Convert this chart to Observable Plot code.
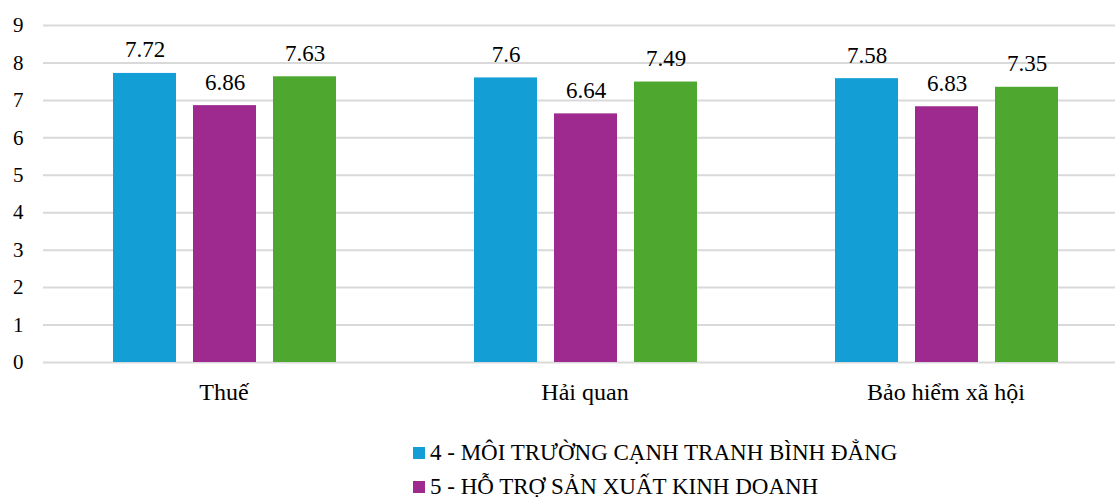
<!DOCTYPE html>
<html>
<head>
<meta charset="utf-8">
<script src="https://cdn.jsdelivr.net/npm/d3@7"></script>
<script src="https://cdn.jsdelivr.net/npm/@observablehq/plot@0.6"></script>
<style>
  body { margin: 0; background: #fff; font-family: "Tinos", "Times New Roman", "Liberation Serif", "DejaVu Serif", "Noto Serif", serif; }
  #legend { padding-top: 16px; padding-left: 413px; font-size: 23px; color: #000; }
  .row { display: flex; align-items: center; height: 34px; }
  .sw { width: 12px; height: 12px; margin-right: 5px; }
  svg text { font-family: "Tinos", "Times New Roman", "Liberation Serif", "DejaVu Serif", "Noto Serif", serif !important; }
</style>
</head>
<body>
<div id="chart"></div>
<div id="legend"></div>
<script>
const categories = ["Thuế", "Hải quan", "Bảo hiểm xã hội"];
const seriesNames = ["4 - MÔI TRƯỜNG CẠNH TRANH BÌNH ĐẲNG", "5 - HỖ TRỢ SẢN XUẤT KINH DOANH", "6"];
const series4 = [7.72, 7.6, 7.58];
const series5 = [6.86, 6.64, 6.83];
const series6 = [7.63, 7.49, 7.35];
const colors = ["#139fd6", "#9e2a8f", "#4ea72e"];
const yTicks = [0, 1, 2, 3, 4, 5, 6, 7, 8, 9];
const legendShown = 2;

const allValues = [series4, series5, series6];
const data = [];
categories.forEach((c, i) => {
  seriesNames.forEach((s, j) => data.push({category: c, series: s, value: allValues[j][i]}));
});

const font = "Tinos, 'Times New Roman', 'Liberation Serif', 'DejaVu Serif', serif";
const chart = Plot.plot({
  width: 1115,
  height: 420,
  marginLeft: 43,
  marginRight: 0,
  marginTop: 25,
  marginBottom: 58,
  style: {fontFamily: font, color: "#000", background: "#fff"},
  fx: {domain: categories, range: [43, 1126], padding: 0, label: null},
  x: {domain: seriesNames, range: [113, 336], paddingInner: 0.2125, paddingOuter: 0, axis: null},
  y: {domain: [0, 9], label: null},
  color: {domain: seriesNames, range: colors},
  marks: [
    Plot.gridY(yTicks, {stroke: "#d9d9d9", strokeOpacity: 1, strokeWidth: 2}),
    Plot.axisY(yTicks, {tickSize: 0, tickPadding: 20, fontSize: 21, label: null, tickFormat: d => String(d)}),
    Plot.axisFx({anchor: "bottom", tickSize: 0, tickPadding: 20, fontSize: 24, label: null}),
    Plot.barY(data, {fx: "category", x: "series", y: "value", fill: "series"}),
    Plot.text(data, {fx: "category", x: "series", y: "value", text: d => String(d.value), lineAnchor: "bottom", dy: -16, fontSize: 23, fill: "#000"})
  ]
});
document.getElementById("chart").appendChild(chart);

const legend = document.getElementById("legend");
seriesNames.slice(0, legendShown).forEach((s, j) => {
  const row = document.createElement("div");
  row.className = "row";
  const sw = document.createElement("span");
  sw.className = "sw";
  sw.style.background = colors[j];
  const t = document.createElement("span");
  t.textContent = s;
  row.appendChild(sw);
  row.appendChild(t);
  legend.appendChild(row);
});
</script>
</body>
</html>
